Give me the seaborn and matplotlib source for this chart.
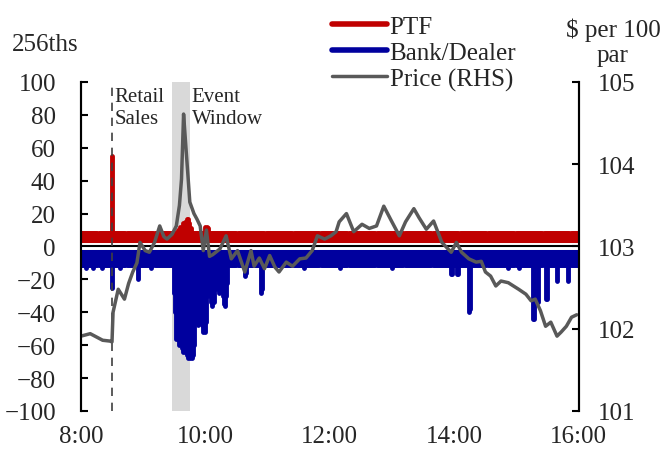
import numpy as np
import pandas as pd
import matplotlib
matplotlib.use("Agg")
import matplotlib.pyplot as plt
from matplotlib.lines import Line2D
import seaborn as sns

# ── Data ─────────────────────────────────────────────────────────────────────

# Price (RHS), $ per 100 par
price_times = [
    "8:00", "8:09", "8:15", "8:21", "8:28", "8:30", "8:31", "8:36", "8:42", "8:46",
    "8:50", "8:54", "8:57", "9:02", "9:06", "9:11", "9:16", "9:20", "9:23", "9:28",
    "9:32", "9:35", "9:37", "9:39", "9:41", "9:43", "9:45", "9:49", "9:52", "9:55",
    "9:58", "10:01", "10:04", "10:07", "10:14", "10:20", "10:25", "10:31", "10:38", "10:44",
    "10:47", "10:52", "10:57", "11:02", "11:07", "11:11", "11:18", "11:24", "11:31", "11:37",
    "11:43", "11:48", "11:55", "12:01", "12:06", "12:09", "12:16", "12:23", "12:31", "12:38",
    "12:45", "12:52", "12:59", "13:07", "13:13", "13:21", "13:26", "13:33", "13:40", "13:48",
    "13:57", "14:02", "14:07", "14:14", "14:21", "14:26", "14:30", "14:35", "14:40", "14:45",
    "14:52", "15:02", "15:09", "15:14", "15:18", "15:23", "15:28", "15:33", "15:39", "15:43",
    "15:48", "15:53", "15:58",
]
price_values = [
    101.91, 101.94, 101.90, 101.86, 101.85, 101.84, 102.20, 102.48, 102.36, 102.55,
    102.69, 102.80, 103.05, 102.95, 102.93, 103.05, 103.25, 103.12, 103.09, 103.15,
    103.25, 103.50, 103.82, 104.61, 104.25, 103.90, 103.54, 103.40, 103.33, 103.25,
    102.95, 103.20, 102.88, 102.90, 102.97, 103.13, 102.85, 102.95, 102.69, 102.95,
    102.76, 102.86, 102.73, 102.89, 102.75, 102.69, 102.81, 102.76, 102.85, 102.86,
    102.95, 103.13, 103.09, 103.13, 103.18, 103.30, 103.40, 103.18, 103.27, 103.22,
    103.25, 103.49, 103.32, 103.13, 103.30, 103.46, 103.35, 103.21, 103.31, 103.05,
    102.93, 103.05, 102.93, 102.85, 102.81, 102.82, 102.69, 102.64, 102.52, 102.58,
    102.56, 102.48, 102.42, 102.34, 102.36, 102.22, 102.03, 102.08, 101.91, 101.96,
    102.03, 102.14, 102.17,
]

# Per-minute net flows, 256ths: usual level plus the visible spikes
ptf_typical = 8
dealer_typical = -11

ptf_spike_times = ["8:30", "9:34", "9:36", "9:38", "9:40", "9:42", "9:43", "9:44",
                   "9:46", "10:00", "10:02", "10:03"]
ptf_spike_values = [55, 10, 12, 14, 15, 17, 17, 14, 11, 12, 12, 11]

dealer_spike_times = [
    "8:05", "8:12", "8:20", "8:30", "8:38", "8:55", "9:08",
    "9:30", "9:31", "9:32", "9:33", "9:34", "9:35", "9:36", "9:37", "9:38", "9:39",
    "9:40", "9:41", "9:42", "9:43", "9:44", "9:45", "9:46", "9:47", "9:48", "9:49",
    "9:50", "9:51", "9:52", "9:53", "9:54", "9:55", "9:56", "9:57", "9:58", "9:59",
    "10:00", "10:01", "10:02", "10:03", "10:04", "10:05", "10:06", "10:07", "10:08",
    "10:09", "10:10", "10:11", "10:12", "10:13", "10:14", "10:15", "10:16", "10:17",
    "10:18", "10:19", "10:20", "10:21",
    "10:38", "10:39", "10:54", "10:55", "11:35", "12:10", "13:00", "13:57", "13:58",
    "14:03", "14:04", "14:14", "14:15", "14:52", "15:02", "15:16", "15:17", "15:21",
    "15:28", "15:29", "15:39", "15:50",
]
dealer_spike_values = [
    -13, -13, -13, -25, -13, -20, -13,
    -28, -40, -56, -50, -56, -60, -58, -62, -64, -60,
    -64, -62, -66, -68, -64, -68, -66, -68, -66, -60,
    -42, -38, -46, -48, -44, -46, -40, -48, -52, -50,
    -52, -46, -30, -22, -30, -34, -36, -32, -34,
    -26, -18, -20, -26, -28, -27, -24, -20, -30,
    -35, -36, -30, -22,
    -18, -16, -28, -26, -13, -13, -13, -17, -17,
    -17, -17, -40, -38, -13, -13, -44, -44, -34,
    -32, -32, -21, -21,
]

retail_sales_time = "8:30"
event_window = ["9:28", "9:45"]

x_ticks = ["8:00", "10:00", "12:00", "14:00", "16:00"]


def to_hours(t):
    h, m = t.split(":")
    return int(h) + int(m) / 60.0


# ── Build per-minute series ──────────────────────────────────────────────────

minutes = np.arange(8 * 60, 16 * 60) / 60.0
ptf = np.full(len(minutes), ptf_typical, dtype=float)
dealer = np.full(len(minutes), dealer_typical, dtype=float)
for t, v in zip(ptf_spike_times, ptf_spike_values):
    ptf[int(round((to_hours(t) - 8) * 60))] = v
for t, v in zip(dealer_spike_times, dealer_spike_values):
    dealer[int(round((to_hours(t) - 8) * 60))] = v

price_df = pd.DataFrame({"hour": [to_hours(t) for t in price_times], "price": price_values})

RED = "#C00000"
BLUE = "#00009E"
GREY = "#595959"

sns.set_theme(style="white")
plt.rcParams["font.family"] = ["Liberation Serif", "DejaVu Serif"]

fig = plt.figure(figsize=(6.63, 4.56), dpi=100)
ax = fig.add_axes([0.122, 0.0965, 0.751, 0.7215])
ax2 = ax.twinx()

# event window shading and the flows
ax.axvspan(to_hours(event_window[0]), to_hours(event_window[1]), color="#D9D9D9", lw=0, zorder=0)
ax.vlines(minutes, 0, ptf, colors=RED, lw=3.5, capstyle="round", zorder=2)
ax.vlines(minutes, 0, dealer, colors=BLUE, lw=3.5, capstyle="round", zorder=2)
ax.axhline(0, color="white", lw=5, zorder=3)
ax.axhline(0, color="black", lw=1.5, zorder=4)
ax.axvline(to_hours(retail_sales_time), color="#404040", lw=1.2, ls=(0, (5, 4)), zorder=5)

ax.text(8.545, 97, "Retail\nSales", fontsize=15, va="top", ha="left", zorder=6)
ax.text(9.78, 97, "Event\nWindow", fontsize=15, va="top", ha="left", zorder=6)

ax.set_xlim(8, 16)
ax.set_ylim(-100, 100)
ax.set_yticks(range(-100, 101, 20))
ax.set_xticks([to_hours(t) for t in x_ticks])
ax.set_xticklabels(x_ticks)
ax.tick_params(axis="x", length=0, pad=10, labelsize=18)
ax.tick_params(axis="y", direction="in", length=5, width=1.5, color="black", pad=18, labelsize=18)

# price on the right axis
sns.lineplot(data=price_df, x="hour", y="price", ax=ax2, color=GREY, lw=2.5, legend=False)
ax2.set_ylim(101, 105)
ax2.set_yticks([101, 102, 103, 104, 105])
ax2.tick_params(axis="y", direction="in", length=5, width=1.5, color="black", pad=14, labelsize=18)
ax2.set_xlabel("")
ax2.set_ylabel("")
ax.set_xlim(8, 16)

for a in (ax, ax2):
    a.spines["top"].set_visible(False)
    a.spines["bottom"].set_visible(False)
    a.spines["left"].set_color("black")
    a.spines["right"].set_color("black")
    a.spines["left"].set_linewidth(1.5)
    a.spines["right"].set_linewidth(1.5)
    a.grid(False)

fig.text(12 / 663, 1 - 45 / 456, "256ths", fontsize=18, ha="left", va="center")
fig.text(613 / 663, 1 - 43 / 456, "$ per 100\npar", fontsize=18, ha="center", va="center",
         linespacing=1.15)

handles = [
    Line2D([], [], color=RED, lw=4),
    Line2D([], [], color=BLUE, lw=4),
    Line2D([], [], color=GREY, lw=2.5),
]
fig.legend(handles, ["PTF", "Bank/Dealer", "Price (RHS)"], loc="upper left",
           bbox_to_anchor=(322 / 663, 1 - 6 / 456), frameon=False, fontsize=18,
           handlelength=2.2, handletextpad=0.1, labelspacing=0.15, borderaxespad=0)

fig.savefig("out.png", dpi=100)
